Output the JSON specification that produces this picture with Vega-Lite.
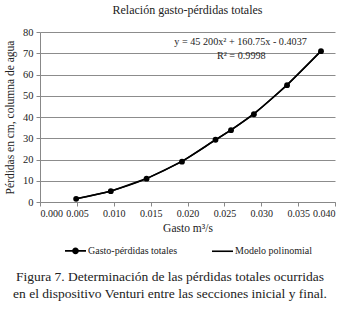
{
  "$schema": "https://vega.github.io/schema/vega-lite/v6.json",
  "background": "white",
  "padding": {"left": 4, "right": 2, "top": 4, "bottom": 2},
  "title": {
    "text": ["Figura 7. Determinación de las pérdidas totales ocurridas", "en el dispositivo Venturi entre las secciones inicial y final."],
    "orient": "bottom", "anchor": "middle", "font": "Liberation Serif", "fontSize": 13.5,
    "fontWeight": "normal", "color": "#222", "lineHeight": 17, "offset": 13
  },
  "config": {
    "font": "Liberation Serif",
    "view": {"stroke": null},
    "axis": {"labelFont": "Liberation Serif", "titleFont": "Liberation Serif", "labelColor": "#222", "titleColor": "#222", "titleFontWeight": "normal", "labelOverlap": false},
    "legend": {"labelFont": "Liberation Serif", "layout": {"bottom": {"anchor": "middle"}}}
  },
  "datasets": {
    "pts": [
      {"gasto": 0.0049, "perdida": 1.5, "serie": "Gasto-pérdidas totales"},
      {"gasto": 0.0096, "perdida": 5.1, "serie": "Gasto-pérdidas totales"},
      {"gasto": 0.01445, "perdida": 11.0, "serie": "Gasto-pérdidas totales"},
      {"gasto": 0.01925, "perdida": 19.0, "serie": "Gasto-pérdidas totales"},
      {"gasto": 0.0238, "perdida": 29.3, "serie": "Gasto-pérdidas totales"},
      {"gasto": 0.0259, "perdida": 33.8, "serie": "Gasto-pérdidas totales"},
      {"gasto": 0.029, "perdida": 41.3, "serie": "Gasto-pérdidas totales"},
      {"gasto": 0.0335, "perdida": 55.0, "serie": "Gasto-pérdidas totales"},
      {"gasto": 0.0381, "perdida": 71.0, "serie": "Gasto-pérdidas totales"},
      {"gasto": 0.0049, "perdida": 1.5, "serie": "Modelo polinomial"},
      {"gasto": 0.0096, "perdida": 5.2, "serie": "Modelo polinomial"},
      {"gasto": 0.01445, "perdida": 11.0, "serie": "Modelo polinomial"},
      {"gasto": 0.01925, "perdida": 19.2, "serie": "Modelo polinomial"},
      {"gasto": 0.0238, "perdida": 29.2, "serie": "Modelo polinomial"},
      {"gasto": 0.0259, "perdida": 33.9, "serie": "Modelo polinomial"},
      {"gasto": 0.029, "perdida": 41.6, "serie": "Modelo polinomial"},
      {"gasto": 0.0335, "perdida": 55.2, "serie": "Modelo polinomial"},
      {"gasto": 0.0381, "perdida": 71.1, "serie": "Modelo polinomial"}
    ],
    "ann": [
      {"gasto": 0.0272, "perdida": 75.5, "txt": "y = 45 200x² + 160.75x - 0.4037"},
      {"gasto": 0.0273, "perdida": 68.8, "txt": "R² = 0.9998"}
    ]
  },
  "vconcat": [
    {
      "width": 295,
      "height": 170,
      "title": {"text": "Relación gasto-pérdidas totales", "font": "Liberation Serif", "fontSize": 12, "fontWeight": "normal", "color": "#222", "offset": 10},
      "encoding": {
        "x": {"field": "gasto", "type": "quantitative",
          "scale": {"domain": [0, 0.04], "nice": false},
          "axis": {"title": "Gasto m³/s", "format": ".3f", "values": [0, 0.005, 0.01, 0.015, 0.02, 0.025, 0.03, 0.035, 0.04],
            "grid": false, "domainColor": "#888", "tickColor": "#888", "tickSize": 4, "labelFontSize": 10, "titleFontSize": 11.5, "titlePadding": 4, "labelPadding": 2, "labelOverlap": false}},
        "y": {"field": "perdida", "type": "quantitative",
          "scale": {"domain": [0, 80], "nice": false},
          "axis": {"title": "Pérdidas en cm, columna de agua", "values": [0, 10, 20, 30, 40, 50, 60, 70, 80],
            "grid": true, "gridColor": "#8c8c8c", "domainColor": "#888", "tickColor": "#888", "tickSize": 4, "labelFontSize": 10.5, "titleFontSize": 11.5, "titlePadding": 7, "labelPadding": 3, "labelOverlap": false}}
      },
      "layer": [
        {
          "data": {"name": "pts"},
          "transform": [{"filter": "datum.serie === 'Modelo polinomial'"}],
          "mark": {"type": "line", "interpolate": "monotone", "color": "black", "strokeWidth": 1.5}
        },
        {
          "data": {"name": "pts"},
          "transform": [{"filter": "datum.serie === 'Gasto-pérdidas totales'"}],
          "mark": {"type": "line", "color": "black", "strokeWidth": 1.6}
        },
        {
          "data": {"name": "pts"},
          "transform": [{"filter": "datum.serie === 'Gasto-pérdidas totales'"}],
          "mark": {"type": "point", "filled": true, "color": "black", "size": 34, "opacity": 1}
        },
        {
          "data": {"name": "pts"},
          "transform": [{"filter": "datum.perdida > 1000"}],
          "mark": {"type": "point", "filled": false, "color": "black", "strokeWidth": 1.6, "opacity": 1},
          "encoding": {
            "shape": {"field": "serie", "type": "nominal",
              "scale": {"domain": ["Gasto-pérdidas totales", "Modelo polinomial"],
                "range": ["M-1,0H1M-0.24,0A0.24,0.24 0 1,0 0.24,0A0.24,0.24 0 1,0 -0.24,0M-0.14,0A0.14,0.14 0 1,0 0.14,0A0.14,0.14 0 1,0 -0.14,0M-0.05,0A0.05,0.05 0 1,0 0.05,0A0.05,0.05 0 1,0 -0.05,0", "M-1,0H1"]},
              "legend": {"title": null, "orient": "bottom", "direction": "horizontal", "symbolSize": 440,
                "symbolStrokeColor": "black", "symbolStrokeWidth": 1.6, "symbolOpacity": 1,
                "labelFontSize": 10, "labelColor": "#222", "columnPadding": 30, "labelOffset": 1, "offset": 5}}
          }
        },
        {
          "data": {"name": "ann"},
          "mark": {"type": "text", "font": "Liberation Serif", "fontSize": 10.2, "color": "#222", "align": "center", "baseline": "middle"},
          "encoding": {
            "text": {"field": "txt"}
          }
        }
      ]
    }
  ]
}
